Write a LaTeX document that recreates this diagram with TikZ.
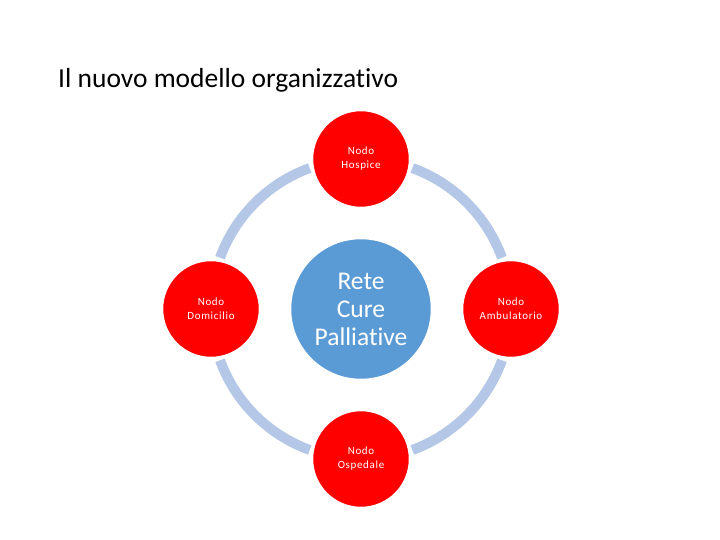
\documentclass[tikz,border=0pt]{standalone}
\usepackage{fontspec}
\setmainfont{Carlito}[Ligatures={NoCommon}]
\definecolor{ringblue}{HTML}{B4C7E7}
\definecolor{centerblue}{HTML}{5B9BD5}
\definecolor{nodered}{HTML}{FF0000}
\begin{document}
\begin{tikzpicture}[x=1pt,y=-1pt,
  outer/.style={circle,fill=nodered,draw=white,line width=1.5pt,minimum size=97pt,inner sep=0pt,text=white,align=center,font={\fontsize{11}{14}\selectfont\addfontfeatures{LetterSpace=6}}},
  hub/.style={circle,fill=centerblue,draw=white,line width=1.5pt,minimum size=141pt,inner sep=0pt,text=white,align=center,font={\fontsize{25.5}{28}\selectfont}},
  ring/.style={draw=ringblue,line width=10pt}]
\useasboundingbox (0,0) rectangle (720,540);
\node[anchor=base west,inner sep=0pt,font={\fontsize{27.5}{30}\selectfont}] (title) at (58,88) {Il nuovo modello organizzativo};
\coordinate (c) at (361,309);
\draw[ring] ([shift={(20:150pt)}]c) arc[start angle=20,end angle=70,radius=150pt];
\draw[ring] ([shift={(110:150pt)}]c) arc[start angle=110,end angle=160,radius=150pt];
\draw[ring] ([shift={(200:150pt)}]c) arc[start angle=200,end angle=250,radius=150pt];
\draw[ring] ([shift={(290:150pt)}]c) arc[start angle=290,end angle=340,radius=150pt];
\node[hub] (hub) at (c) {Rete\\Cure\\Palliative};
\node[outer] (hospice) at (361,159) {Nodo\\Hospice};
\node[outer] (domicilio) at (211,309) {Nodo\\Domicilio};
\node[outer] (ambulatorio) at (511,309) {Nodo\\Ambulatorio};
\node[outer] (ospedale) at (361,459) {Nodo\\Ospedale};
\end{tikzpicture}
\end{document}
